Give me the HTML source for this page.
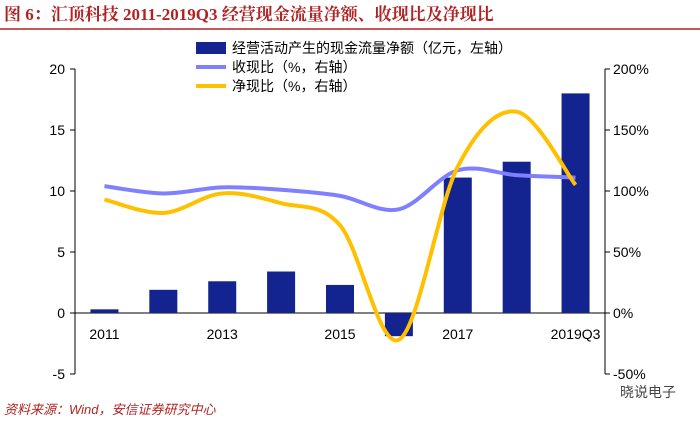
<!DOCTYPE html>
<html><head><meta charset="utf-8">
<style>
body{margin:0;background:#fff;width:700px;height:425px;overflow:hidden;font-family:"Liberation Sans","Noto Sans CJK SC",sans-serif;}
</style></head>
<body>
<svg id="chart" width="700" height="425" xmlns="http://www.w3.org/2000/svg">
<text x="4" y="20" font-size="17" font-weight="bold" fill="#b22222" font-family="Liberation Serif,Noto Serif CJK SC,serif">图 6：汇顶科技 2011-2019Q3 经营现金流量净额、收现比及净现比</text>
<line x1="0" y1="29" x2="700" y2="29" stroke="#b22222" stroke-width="1.5"/>
<g id="axes"></g>
<g id="marks"></g>
<g font-size="14" font-family="Liberation Sans,Noto Sans CJK SC,sans-serif">
<rect x="196" y="42" width="30" height="12" fill="#13238f"/>
<text x="232" y="53">经营活动产生的现金流量净额（亿元，左轴）</text>
<line x1="196" y1="67" x2="226" y2="67" stroke="#8080ff" stroke-width="4"/>
<text x="232" y="72">收现比（%，右轴）</text>
<line x1="196" y1="86" x2="226" y2="86" stroke="#ffc000" stroke-width="4"/>
<text x="232" y="91">净现比（%，右轴）</text>
</g>
<text x="4" y="414" font-size="13" font-style="italic" fill="#b22222">资料来源：Wind，安信证券研究中心</text>
<text x="620" y="397" font-size="14" fill="#444">晓说电子</text>
</svg>
<script>
const categories=["2011","2012","2013","2014","2015","2016","2017","2018","2019Q3"];
const cashflow=[0.3,1.9,2.6,3.4,2.3,-1.9,11.1,12.4,18.0];
const revenueRatio=[104,98,103,101,96,85,117,113,111];
const netRatio=[93,82,98,90,72,-22,120,165,105];
const leftTicks=[-5,0,5,10,15,20];
const rightTicks=[-50,0,50,100,150,200];
const xLabels=["2011","2013","2015","2017","2019Q3"];

const NS="http://www.w3.org/2000/svg";
const X0=75,X1=605,Y0=313,PX=12.2;
const band=(X1-X0)/categories.length;
const xC=i=>X0+band*(i+0.5);
const yL=v=>Y0-v*PX;
const yR=v=>Y0-v*PX/10;
function mk(tag,attrs,parent){const e=document.createElementNS(NS,tag);for(const k in attrs)e.setAttribute(k,attrs[k]);parent.appendChild(e);return e;}
const axes=document.getElementById('axes'),marks=document.getElementById('marks');
let a=mk('line',{x1:X0,y1:yL(20),x2:X0,y2:yL(-5),stroke:'#000'},axes);


a=mk('line',{x1:X1,y1:yL(20),x2:X1,y2:yL(-5),stroke:'#000'},axes);


a=mk('line',{x1:X0,y1:Y0,x2:X1,y2:Y0,stroke:'#000'},axes);


leftTicks.forEach(v=>{
  mk('line',{x1:X0-5,y1:yL(v),x2:X0,y2:yL(v),stroke:'#000'},axes);
  const t=mk('text',{x:X0-10,y:yL(v)+5,'text-anchor':'end','font-size':14},axes);
  t.textContent=v;
  
  
});
rightTicks.forEach(v=>{
  mk('line',{x1:X1,y1:yR(v),x2:X1+5,y2:yR(v),stroke:'#000'},axes);
  const t=mk('text',{x:X1+8,y:yR(v)+5,'font-size':14},axes);
  t.textContent=v+'%';
  
  
});
categories.forEach((c,i)=>{
  if(xLabels.includes(c)){
    const t=mk('text',{x:xC(i),y:Y0+26,'text-anchor':'middle','font-size':14},axes);
    t.textContent=c;
    
    
  }
});
cashflow.forEach((v,i)=>{
  const r=mk('rect',{x:xC(i)-14,y:Math.min(yL(v),Y0),width:28,height:Math.abs(yL(v)-Y0),fill:'#13238f'},marks);
  
  
});
function smooth(vals){
  const p=vals.map((v,i)=>[xC(i),yR(v)]);
  let d='M'+p[0][0]+','+p[0][1];
  for(let i=0;i<p.length-1;i++){
    const p0=p[i-1]||p[i],p1=p[i],p2=p[i+1],p3=p[i+2]||p2;
    const c1=[p1[0]+(p2[0]-p0[0])/6,p1[1]+(p2[1]-p0[1])/6];
    const c2=[p2[0]-(p3[0]-p1[0])/6,p2[1]-(p3[1]-p1[1])/6];
    d+=' C'+c1+' '+c2+' '+p2;
  }
  return d;
}
let l=mk('path',{d:smooth(revenueRatio),fill:'none',stroke:'#8080ff','stroke-width':4},marks);


l=mk('path',{d:smooth(netRatio),fill:'none',stroke:'#ffc000','stroke-width':4},marks);


</script>
</body></html>
